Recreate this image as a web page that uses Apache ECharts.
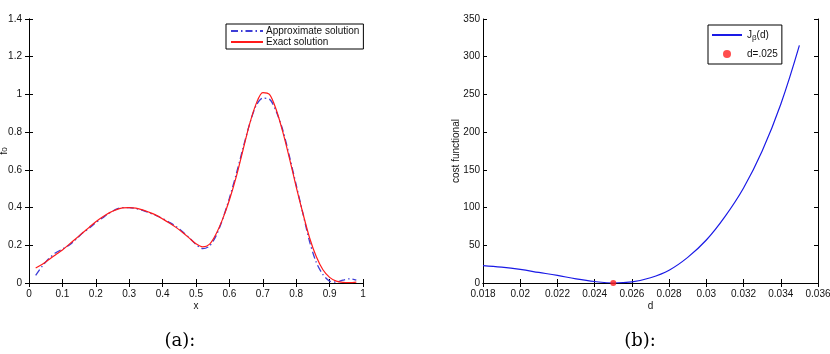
<!DOCTYPE html>
<html>
<head>
<meta charset="utf-8">
<script src="https://cdn.jsdelivr.net/npm/echarts@6/dist/echarts.min.js"></script>
<style>
  html, body { margin: 0; padding: 0; background: #fff; }
  #main { width: 830px; height: 354px; }
</style>
</head>
<body>
<div id="main"></div>
<script>
// (a) approximate vs exact solution
var xs = [0.02, 0.04, 0.06, 0.08, 0.10, 0.12, 0.14, 0.16, 0.18, 0.20, 0.22, 0.24, 0.26, 0.28, 0.30,
  0.32, 0.34, 0.36, 0.38, 0.40, 0.42, 0.44, 0.46, 0.48, 0.50, 0.52, 0.54, 0.56, 0.58, 0.60,
  0.62, 0.64, 0.66, 0.68, 0.70, 0.72, 0.74, 0.76, 0.78, 0.80, 0.82, 0.84, 0.86, 0.88, 0.90,
  0.92, 0.94, 0.96, 0.98];
var exactVals = [0.08, 0.10, 0.125, 0.15, 0.175, 0.205, 0.235, 0.265, 0.295, 0.325, 0.35, 0.372, 0.388, 0.398, 0.40,
  0.397, 0.388, 0.375, 0.36, 0.34, 0.318, 0.295, 0.268, 0.238, 0.208, 0.192, 0.205, 0.26, 0.34, 0.44,
  0.56, 0.70, 0.84, 0.95, 1.01, 1.00, 0.92, 0.80, 0.66, 0.51, 0.37, 0.24, 0.14, 0.07, 0.03,
  0.01, 0.003, 0.002, 0.005];
var approxVals = [0.04, 0.09, 0.13, 0.16, 0.18, 0.20, 0.23, 0.265, 0.29, 0.32, 0.345, 0.37, 0.39, 0.40, 0.40,
  0.395, 0.385, 0.372, 0.358, 0.342, 0.322, 0.30, 0.272, 0.24, 0.205, 0.182, 0.195, 0.25, 0.34, 0.45,
  0.575, 0.71, 0.84, 0.94, 0.98, 0.975, 0.91, 0.81, 0.67, 0.52, 0.37, 0.22, 0.11, 0.045, 0.01,
  0.005, 0.015, 0.022, 0.015];

// (b) cost functional vs d
var ds = [0.018, 0.019, 0.020, 0.021, 0.022, 0.023, 0.024, 0.025, 0.026, 0.027, 0.028, 0.029, 0.030,
  0.031, 0.032, 0.033, 0.034, 0.035];
var costVals = [23, 21, 18, 14, 10, 5.5, 2, 0, 1.5, 7, 17, 34, 57, 88, 126, 175, 237, 315];
var bestD = [[0.025, 0]];

function pairs(a, b) {
  var out = [];
  for (var i = 0; i < a.length; i++) out.push([a[i], b[i]]);
  return out;
}

var font = 'Liberation Sans';
var axLine = { lineStyle: { color: '#000', width: 1 } };
var tick = { inside: true, length: 4, lineStyle: { color: '#000' } };
var capFont = 'normal 18px "DejaVu Serif"';

function lbl(margin) {
  return { color: '#111', fontSize: 10, fontFamily: font, margin: margin };
}

function mainX(grid, min, max, interval, name) {
  return {
    type: 'value', gridIndex: grid, min: min, max: max, interval: interval,
    name: name, nameLocation: 'middle', nameGap: 18, nameMoveOverlap: false,
    nameTextStyle: { fontSize: 10, fontFamily: font, color: '#111' },
    axisLine: axLine, axisTick: tick, axisLabel: lbl(6), splitLine: { show: false }
  };
}
function mainY(grid, min, max, interval, name, gap, margin, rich) {
  return {
    type: 'value', gridIndex: grid, min: min, max: max, interval: interval,
    name: name, nameLocation: 'middle', nameGap: gap, nameRotate: 90, nameMoveOverlap: false,
    nameTextStyle: { fontSize: 10, fontFamily: font, color: '#111', rich: rich },
    axisLine: axLine, axisTick: tick, axisLabel: lbl(margin), splitLine: { show: false }
  };
}
function boxX(grid, min, max, interval) {
  return { type: 'value', gridIndex: grid, position: 'top', min: min, max: max, interval: interval,
    axisLine: axLine, axisTick: tick, axisLabel: { show: false }, splitLine: { show: false } };
}
function boxY(grid, min, max, interval) {
  return { type: 'value', gridIndex: grid, position: 'right', min: min, max: max, interval: interval,
    axisLine: axLine, axisTick: tick, axisLabel: { show: false }, splitLine: { show: false } };
}

var chart = echarts.init(document.getElementById('main'));
var option = {
  backgroundColor: '#fff',
  animation: false,
  graphic: [
    { type: 'text', x: 180, y: 341, style: { text: '(a):', font: capFont, fill: '#000', align: 'center', verticalAlign: 'middle' } },
    { type: 'text', x: 640, y: 341, style: { text: '(b):', font: capFont, fill: '#000', align: 'center', verticalAlign: 'middle' } }
  ],
  grid: [
    { left: 29, top: 19, width: 334, height: 264, outerBoundsMode: 'none' },
    { left: 483, top: 19, width: 335, height: 264, outerBoundsMode: 'none' }
  ],
  xAxis: [
    mainX(0, 0, 1, 0.1, 'x'),
    mainX(1, 0.018, 0.036, 0.002, 'd'),
    boxX(0, 0, 1, 0.1),
    boxX(1, 0.018, 0.036, 0.002)
  ],
  yAxis: [
    mainY(0, 0, 1.4, 0.2, '{f|f}{s|0}', 20, 7, { f: { fontSize: 11, fontFamily: font }, s: { fontSize: 8, fontFamily: font, verticalAlign: 'bottom' } }),
    mainY(1, 0, 350, 50, 'cost functional', 22, 3),
    boxY(0, 0, 1.4, 0.2),
    boxY(1, 0, 350, 50)
  ],
  legend: [
    {
      data: [
        { name: 'Approximate solution', itemStyle: { opacity: 0 } },
        { name: 'Exact solution', itemStyle: { opacity: 0 } }
      ],
      orient: 'vertical', left: 226, top: 24, itemGap: 1, itemWidth: 32, itemHeight: 10,
      padding: [2, 4, 2, 4], borderColor: '#000', borderWidth: 1, backgroundColor: '#fff',
      textStyle: { fontSize: 10, fontFamily: font, color: '#111', padding: [0, 0, 0, -2] }
    },
    {
      data: [
        { name: 'J', itemStyle: { opacity: 0 } },
        { name: 'd=.025', icon: 'circle' }
      ],
      orient: 'vertical', left: 708, top: 25, itemGap: 7, itemWidth: 30, itemHeight: 8,
      padding: [5, 4, 5, 3], borderColor: '#000', borderWidth: 1, backgroundColor: '#fff',
      formatter: function (n) { return n === 'J' ? '{a|J}{b|β}{a|(d)}' : n; },
      textStyle: {
        fontSize: 10, fontFamily: font, color: '#111',
        rich: { a: { fontSize: 10, fontFamily: font }, b: { fontSize: 8, fontFamily: font, verticalAlign: 'top', padding: [6, 0, 0, 0] } }
      }
    }
  ],
  series: [
    {
      name: 'Approximate solution', type: 'line', xAxisIndex: 0, yAxisIndex: 0,
      data: pairs(xs, approxVals), smooth: 0.3, showSymbol: false, symbol: 'none',
      lineStyle: { color: '#3d3dd6', width: 1.3, type: [7, 3, 1.5, 3] }, itemStyle: { color: '#3d3dd6' }
    },
    {
      name: 'Exact solution', type: 'line', xAxisIndex: 0, yAxisIndex: 0,
      data: pairs(xs, exactVals), smooth: 0.3, showSymbol: false, symbol: 'none',
      lineStyle: { color: '#ff1a1a', width: 1.2 }, itemStyle: { color: '#ff1a1a' }
    },
    {
      name: 'J', type: 'line', xAxisIndex: 1, yAxisIndex: 1,
      data: pairs(ds, costVals), smooth: 0.4, showSymbol: false, symbol: 'none',
      lineStyle: { color: '#1a1ae6', width: 1.2 }, itemStyle: { color: '#1a1ae6' }
    },
    {
      name: 'd=.025', type: 'scatter', xAxisIndex: 1, yAxisIndex: 1,
      data: bestD, symbol: 'circle', symbolSize: 6, itemStyle: { color: '#ff2020' }, z: 5
    }
  ]
};
chart.setOption(option);
</script>
</body>
</html>
